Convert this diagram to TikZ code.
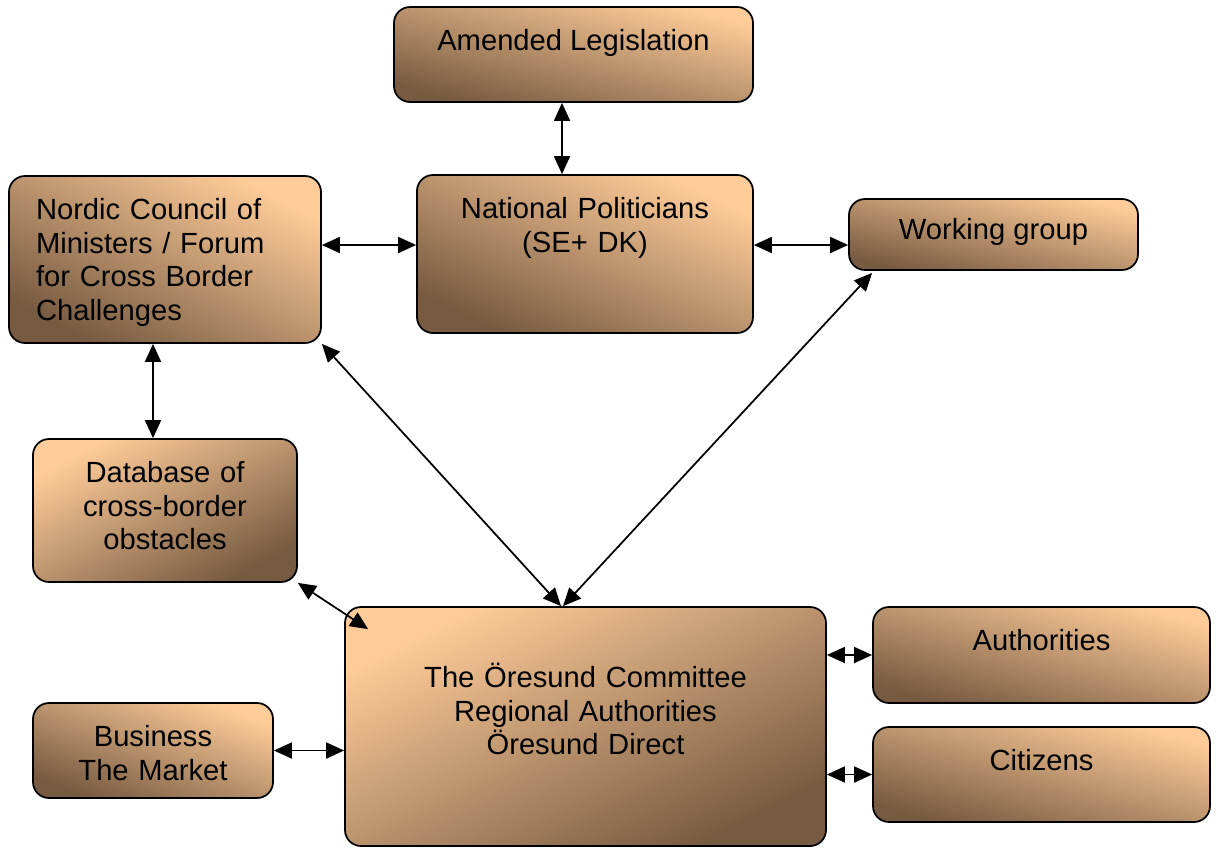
\documentclass[tikz,border=0pt]{standalone}
\usepackage{fontspec}
\setmainfont{Liberation Sans}
\usepackage{tikz}
\usetikzlibrary{positioning, arrows.meta, calc}
\definecolor{peachlight}{HTML}{FFCC99}
\definecolor{peachdark}{HTML}{765A41}
\tikzset{
  box/.style={
    draw=black, line width=1pt,
    rounded corners=0.32cm,
    shading=axis,
    top color=peachlight,
    bottom color=peachdark,
    align=center,
    inner sep=0pt,
    font=\fontsize{16.6}{19.1}\selectfont,
    text height=0.87cm
  },
  link/.style={
    {Triangle[length=0.36cm, width=0.32cm]}-{Triangle[length=0.36cm, width=0.32cm]},
    line width=1pt, color=black
  }
}
\begin{document}
\begin{tikzpicture}
  \useasboundingbox (0,0) rectangle (24.42,-16.96);

  % Top row
  \node[box, shading angle=-14.8, minimum width=7.18cm, minimum height=1.90cm, text depth=1.03cm] (amend) at (11.47,-1.09) {Amended Legislation};
  \node[box, shading angle=-28.2, minimum width=6.24cm, minimum height=3.34cm, text depth=2.47cm, align=left, text width=5.16cm] (nordic) at (3.30,-5.19)
    {Nordic Council of\\Ministers / Forum\\for Cross Border\\Challenges};
  \node[box, shading angle=-25.2, minimum width=6.72cm, minimum height=3.16cm, text depth=2.29cm, text width=6.3cm] (natpol) at (11.70,-5.08) {National Politicians\\(SE+ DK)};
  \node[box, shading angle=-13.8, minimum width=5.78cm, minimum height=1.42cm, text height=0.81cm, text depth=0.61cm] (work) at (19.87,-4.69) {Working group};

  % Middle and bottom
  \node[box, shading angle=28.4, minimum width=5.28cm, minimum height=2.86cm, text depth=1.99cm, text width=4.9cm] (db) at (3.30,-10.21) {Database of\\cross-border\\obstacles};
  \node[box, shading angle=26.4, minimum width=9.62cm, minimum height=4.78cm, text height=1.61cm, text depth=3.17cm, text width=9.2cm] (oresund) at (11.71,-14.53)
    {The Öresund Committee\\Regional Authorities\\Öresund Direct};
  \node[box, shading angle=-21.6, minimum width=4.80cm, minimum height=1.90cm, text depth=1.03cm, text width=4.4cm] (business) at (3.06,-15.01) {Business\\The Market};
  \node[box, shading angle=-15.9, minimum width=6.74cm, minimum height=1.92cm, text depth=1.05cm] (auth) at (20.83,-13.10) {Authorities};
  \node[box, shading angle=-15.8, minimum width=6.74cm, minimum height=1.90cm, text depth=1.03cm] (citizens) at (20.83,-15.49) {Citizens};

  % Connections
  \draw[link] (amend.south -| 11.24,0) -- (natpol.north -| 11.24,0);
  \draw[link] (nordic.east |- 0,-4.90) -- (natpol.west |- 0,-4.90);
  \draw[link] (natpol.east |- 0,-4.90) -- (work.west |- 0,-4.90);
  \draw[link] (nordic.south -| 3.06,0) -- (db.north -| 3.06,0);
  \draw[link] (nordic.south east) -- (oresund.north -| 11.22,0);
  \draw[link] ([shift={(0.48,-0.04)}]work.south west) -- (oresund.north -| 11.26,0);
  \draw[link] (db.south east) -- ([shift={(0.48,-0.46)}]oresund.north west);
  \draw[link] (business.east) -- (business.east -| oresund.west);
  \draw[link] (auth.west -| oresund.east) -- (auth.west);
  \draw[link] (citizens.west -| oresund.east) -- (citizens.west);
\end{tikzpicture}
\end{document}
